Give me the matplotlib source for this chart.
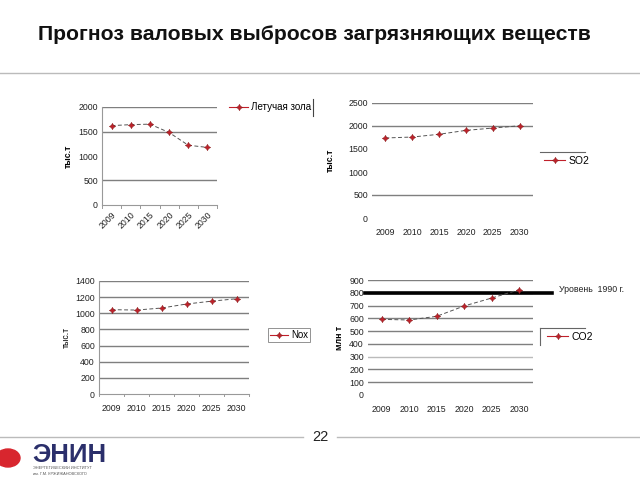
import matplotlib
matplotlib.use("Agg")
import matplotlib.pyplot as plt
from matplotlib.lines import Line2D
from matplotlib.patches import Circle

plt.rcParams['font.family'] = ['Liberation Sans', 'DejaVu Sans']

years = ["2009", "2010", "2015", "2020", "2025", "2030"]
ash = [1620, 1640, 1650, 1480, 1220, 1175]
so2 = [1740, 1760, 1820, 1905, 1955, 2005]
nox = [1045, 1040, 1065, 1115, 1150, 1180]
co2 = [592, 587, 616, 697, 759, 824]
level_1990 = 800

W, H = 640, 480
fig = plt.figure(figsize=(6.4, 4.8), dpi=100)
fig.patch.set_facecolor('white')

def ax_px(x0, x1, ytop, ybot):
    return fig.add_axes([x0 / W, 1 - ybot / H, (x1 - x0) / W, (ybot - ytop) / H])

RED = '#c0202a'
LINEC = '#555555'
GRID = '#7f7f7f'
TICKFS = 6.3
xs = list(range(len(years)))

def draw_series(ax, vals):
    ax.plot(xs, vals, linestyle=(0, (4, 2.5)), color=LINEC, lw=0.7, zorder=3)
    ax.plot(xs, vals, linestyle='none', marker=(4, 1, 0), ms=4.5,
            mfc=RED, mec='#8b1a1a', mew=0.4, zorder=4)

def legend_handle():
    return Line2D([0], [0], color=RED, lw=0.8, marker=(4, 1, 0), ms=4.5,
                  mfc=RED, mec='#8b1a1a', mew=0.4)

def style(ax, ymax, step, grid_vals, left_spine=False, bottom_spine=False):
    ax.set_xlim(-0.5, len(years) - 0.5)
    ax.set_ylim(0, ymax)
    ax.set_yticks(range(0, ymax + 1, step))
    ax.tick_params(axis='y', labelsize=TICKFS, length=0, pad=3, colors='#222222')
    ax.tick_params(axis='x', labelsize=TICKFS, length=0, pad=4, colors='#222222')
    ax.set_xticks(xs)
    ax.set_xticklabels(years)
    for g in grid_vals:
        ax.axhline(g, color=GRID, lw=1.0, zorder=1)
    for s in ['top', 'right']:
        ax.spines[s].set_visible(False)
    ax.spines['left'].set_visible(left_spine)
    ax.spines['bottom'].set_visible(bottom_spine)
    for s in ['left', 'bottom']:
        ax.spines[s].set_color('#999999')
        ax.spines[s].set_linewidth(0.8)
    ax.set_facecolor('none')

# Title
fig.text(38 / W, 1 - 35 / H, "Прогноз валовых выбросов загрязняющих веществ",
         fontsize=15.2, fontweight='bold', ha='left', va='center', color='#111111')
fig.add_artist(Line2D([0, 1], [1 - 73 / H, 1 - 73 / H], color='#bbbbbb', lw=1.0))

# Chart 1: fly ash
ax1 = ax_px(102, 217, 107, 205)
style(ax1, 2000, 500, [500, 1500, 2000], left_spine=True, bottom_spine=True)
draw_series(ax1, ash)
ax1.set_xticklabels(years, rotation=45, ha='right', rotation_mode='anchor')
ax1.set_ylabel("тыс.т", fontsize=6.3, fontweight='bold', labelpad=4)
for b in range(len(years) + 1):
    ax1.plot([b - 0.5, b - 0.5], [0, -60], color='#999999', lw=0.7, clip_on=False)
ax1.legend([legend_handle()], ["Летучая зола"], loc='center left',
           bbox_to_anchor=(225 / W, 1 - 107 / H), bbox_transform=fig.transFigure,
           frameon=False, fontsize=7, handlelength=2.0, borderaxespad=0,
           handletextpad=0.3)
fig.add_artist(Line2D([313 / W, 313 / W], [1 - 99 / H, 1 - 116 / H], color='#444444', lw=0.8))

# Chart 2: SO2
ax2 = ax_px(372, 533, 103, 218)
style(ax2, 2500, 500, [500, 2000, 2500])
draw_series(ax2, so2)
ax2.set_ylabel("тыс.т", fontsize=6.3, fontweight='bold', labelpad=10)
ax2.tick_params(axis='x', pad=7)
ax2.legend([legend_handle()], ["SO2"], loc='center left',
           bbox_to_anchor=(540 / W, 1 - 161 / H), bbox_transform=fig.transFigure,
           frameon=False, fontsize=7.5, handlelength=2.0, borderaxespad=0,
           handletextpad=0.3)
fig.add_artist(Line2D([540 / W, 585 / W], [1 - 152 / H, 1 - 152 / H], color='#666666', lw=0.8))

# Chart 3: NOx
ax3 = ax_px(99, 249, 281, 394)
style(ax3, 1400, 200, list(range(200, 1401, 200)), left_spine=True, bottom_spine=True)
draw_series(ax3, nox)
ax3.set_ylabel("тыс.т", fontsize=6.3, labelpad=3)
ax3.tick_params(axis='x', pad=7)
for b in range(len(years) + 1):
    ax3.plot([b - 0.5, b - 0.5], [0, -30], color='#999999', lw=0.7, clip_on=False)
l3 = ax3.legend([legend_handle()], ["Nох"], loc='center left',
                bbox_to_anchor=(268 / W, 1 - 335 / H), bbox_transform=fig.transFigure,
                frameon=True, fontsize=7, handlelength=1.8, borderaxespad=0,
                handletextpad=0.3, fancybox=False, borderpad=0.25)
l3.get_frame().set_edgecolor('#777777')
l3.get_frame().set_linewidth(0.7)

# Chart 4: CO2
ax4 = ax_px(368, 533, 280, 395)
style(ax4, 900, 100, [g for g in range(100, 901, 100) if g != 300])
ax4.axhline(300, color='#bbbbbb', lw=1.0, zorder=1)
draw_series(ax4, co2)
ax4.plot([-0.6, 6.2], [level_1990, level_1990], color='black', lw=2.6, zorder=2, clip_on=False)
ax4.set_ylabel("млн т", fontsize=6.3, fontweight='bold', labelpad=4)
ax4.tick_params(axis='x', pad=7)
fig.text(559 / W, 1 - 290 / H, "Уровень  1990 г.", fontsize=6.3, ha='left', va='center',
         color='#222222')
ax4.legend([legend_handle()], ["CO2"], loc='center left',
           bbox_to_anchor=(543 / W, 1 - 337 / H), bbox_transform=fig.transFigure,
           frameon=False, fontsize=7.5, handlelength=2.0, borderaxespad=0,
           handletextpad=0.3)
fig.add_artist(Line2D([540 / W, 585 / W], [1 - 328 / H, 1 - 328 / H], color='#666666', lw=0.8))
fig.add_artist(Line2D([540 / W, 540 / W], [1 - 328 / H, 1 - 345 / H], color='#666666', lw=0.8))

# Footer
fig.add_artist(Line2D([0, 303 / W], [1 - 437 / H, 1 - 437 / H], color='#bbbbbb', lw=1.0))
fig.add_artist(Line2D([337 / W, 1], [1 - 437 / H, 1 - 437 / H], color='#bbbbbb', lw=1.0))
fig.text(320 / W, 1 - 437 / H, "22", fontsize=10.5, ha='center', va='center', color='#222222')
fig.add_artist(Circle((8 / W, 1 - 458 / H), 12 / W, transform=fig.transFigure,
                      color='#d8262e', zorder=5))
fig.text(32 / W, 1 - 455 / H, "ЭНИН", fontsize=18.5, fontweight='bold', color='#2b2f6b',
         ha='left', va='center')
fig.text(33 / W, 1 - 468 / H, "ЭНЕРГЕТИЧЕСКИЙ ИНСТИТУТ", fontsize=2.8, color='#555555',
         ha='left', va='center')
fig.text(33 / W, 1 - 474 / H, "им. Г.М. КРЖИЖАНОВСКОГО", fontsize=2.8, color='#555555',
         ha='left', va='center')

fig.savefig("out.png", dpi=100, facecolor='white')
